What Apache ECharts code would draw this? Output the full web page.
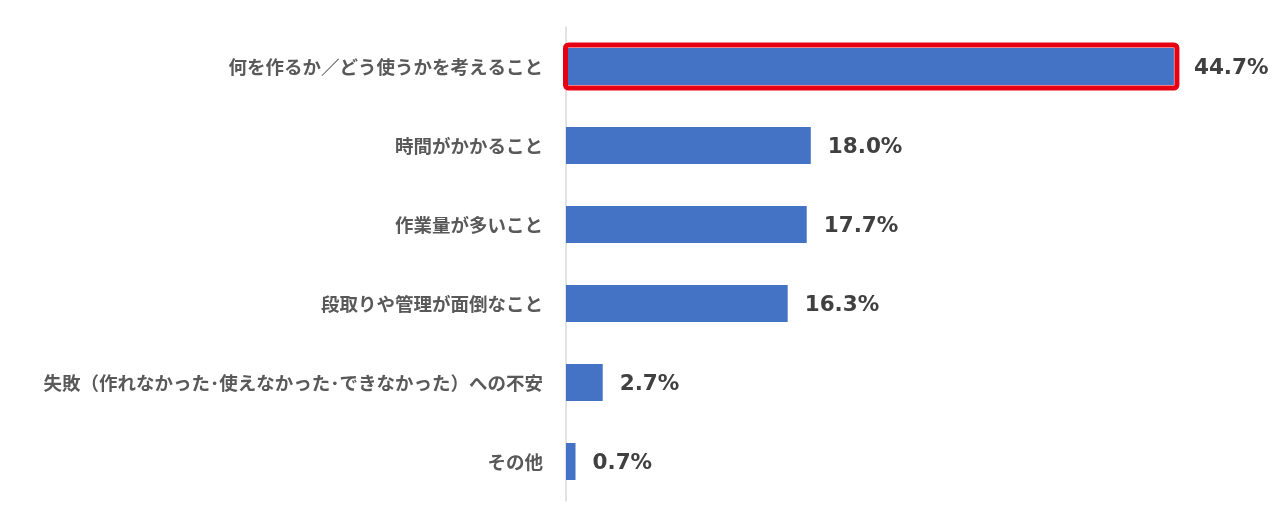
<!DOCTYPE html>
<html>
<head>
<meta charset="utf-8">
<script src="https://cdn.jsdelivr.net/npm/echarts@6/dist/echarts.min.js"></script>
<style>
  html, body { margin: 0; padding: 0; background: #fff; }
  #app { width: 1280px; height: 527px; }
</style>
</head>
<body>
<div id="app"></div>
<script>
// answers, top to bottom
const categories = [
  "何を作るか／どう使うかを考えること",
  "時間がかかること",
  "作業量が多いこと",
  "段取りや管理が面倒なこと",
  "失敗（作れなかった･使えなかった･できなかった）への不安",
  "その他"
];
const shares = [44.7, 18.0, 17.7, 16.3, 2.7, 0.7];
const highlighted = 0;

const chart = echarts.init(document.getElementById("app"));

chart.setOption({
  backgroundColor: "#fff",
  animation: false,
  grid: { left: 566, right: 34, top: 27, bottom: 26 },
  xAxis: {
    type: "value",
    min: 0,
    max: 50,
    show: false
  },
  yAxis: {
    type: "category",
    inverse: true,
    data: categories,
    axisLine: { lineStyle: { color: "#D9D9D9", width: 1.5 } },
    axisTick: { show: false },
    axisLabel: {
      margin: 23,
      color: "#595959",
      fontSize: 18.5,
      fontWeight: "bold",
      fontFamily: "Noto Sans CJK JP"
    }
  },
  series: [{
    type: "bar",
    barWidth: 37,
    data: shares.map((v, i) => i === highlighted
      ? { value: v, label: { distance: 20 } }
      : v),
    itemStyle: { color: "#4472C4" },
    label: {
      show: true,
      position: "right",
      distance: 17,
      offset: [0, 2],
      formatter: p => p.value.toFixed(1) + "%",
      color: "#404040",
      fontSize: 21.5,
      fontWeight: "bold",
      fontFamily: "DejaVu Sans"
    }
  }, {
    // red frame round the top answer
    type: "custom",
    silent: true,
    z: 3,
    data: [[shares[highlighted], highlighted]],
    renderItem: (params, api) => {
      const start = api.coord([0, api.value(1)]);
      const end = api.coord([api.value(0), api.value(1)]);
      const pad = 3;
      const h = 37;
      return {
        type: "rect",
        shape: {
          x: start[0] - 0.5,
          y: start[1] - h / 2 - pad,
          width: end[0] - start[0] + pad + 0.5,
          height: h + pad * 2,
          r: 3
        },
        style: { fill: "none", stroke: "#E60012", lineWidth: 5 }
      };
    }
  }]
});

window.onresize = function() {
  chart.resize();
};
</script>
</body>
</html>
